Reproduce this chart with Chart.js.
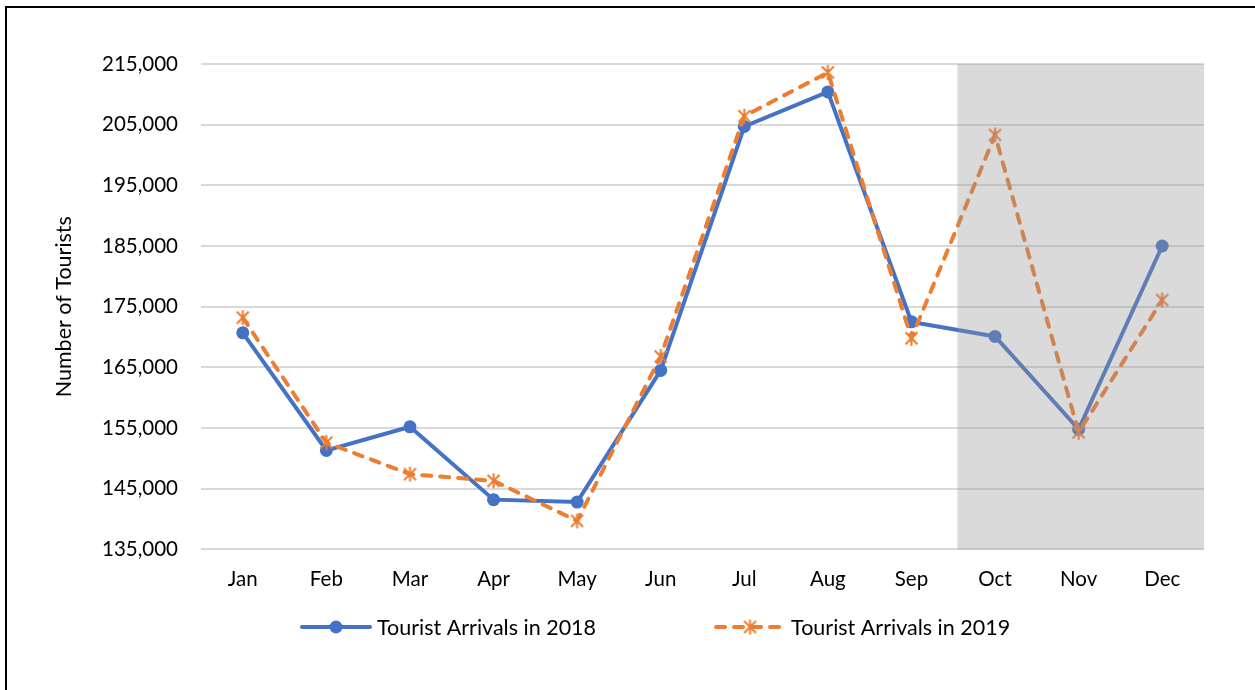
<!DOCTYPE html>
<html>
<head>
<meta charset="utf-8">
<script src="https://cdn.jsdelivr.net/npm/chart.js@4.4.0/dist/chart.umd.min.js"></script>
<style>
  html, body { margin: 0; padding: 0; background: #fff; }
  #wrap { width: 1255px; height: 690px; position: relative; }
</style>
</head>
<body>
<div id="wrap"><canvas id="tourChart"></canvas></div>
<script>
var months = ["Jan", "Feb", "Mar", "Apr", "May", "Jun", "Jul", "Aug", "Sep", "Oct", "Nov", "Dec"];
var arrivals2018 = [170700, 151300, 155200, 143200, 142800, 164500, 204700, 210400, 172500, 170100, 154800, 185000];
var arrivals2019 = [173200, 152600, 147400, 146300, 139700, 166800, 206400, 213600, 169800, 203300, 154300, 176100];
var seriesNames = ["Tourist Arrivals in 2018", "Tourist Arrivals in 2019"];
var yMin = 135000, yMax = 215000, yStep = 10000;
var shadeFrom = 8.55; // grey band starts between Sep and Oct

var blue = "#4472C4";
var orange = "#ED7D31";
var font = "Lato";

// excel style asterisk marker (vertical bar + X)
function starMark(color, size) {
  var c = document.createElement("canvas");
  c.width = size; c.height = size;
  var g = c.getContext("2d");
  var m = size / 2, r = size / 2 - 1, d = r * 0.8;
  g.strokeStyle = color;
  g.lineWidth = 2;
  g.beginPath();
  g.moveTo(m, m - r); g.lineTo(m, m + r);
  g.moveTo(m - d, m - d); g.lineTo(m + d, m + d);
  g.moveTo(m + d, m - d); g.lineTo(m - d, m + d);
  g.stroke();
  return c;
}
var star = starMark(orange, 17);

var framePlugin = {
  id: "frame",
  beforeDraw: function(chart) {
    var ctx = chart.ctx;
    ctx.save();
    ctx.fillStyle = "#fff";
    ctx.fillRect(0, 0, chart.width, chart.height);
    ctx.strokeStyle = "#000";
    ctx.lineWidth = 2;
    ctx.strokeRect(6, 7, chart.width + 20, chart.height + 20);
    ctx.restore();
  }
};

var shadePlugin = {
  id: "shade",
  afterDatasetsDraw: function(chart) {
    var a = chart.chartArea, ctx = chart.ctx;
    var left = chart.scales.x.getPixelForValue(shadeFrom);
    ctx.save();
    ctx.fillStyle = "rgba(150,150,150,0.35)";
    ctx.fillRect(left, a.top, a.right - left, a.bottom - a.top);
    ctx.restore();
  }
};

// legend drawn by hand so the line+marker samples look like Excel's
var legendPlugin = {
  id: "lineLegend",
  afterDraw: function(chart) {
    var ctx = chart.ctx;
    var y = 627, x = 302, sample = 68, gap = 7, between = 120;
    ctx.save();
    ctx.font = "21.5px " + font;
    ctx.textBaseline = "middle";
    chart.data.datasets.forEach(function(ds, i) {
      ctx.strokeStyle = ds.borderColor;
      ctx.lineWidth = 4;
      ctx.lineCap = "round";
      ctx.setLineDash(ds.borderDash || []);
      ctx.beginPath();
      ctx.moveTo(x, y); ctx.lineTo(x + sample, y);
      ctx.stroke();
      ctx.setLineDash([]);
      var cx = x + sample / 2;
      if (i === 0) {
        ctx.fillStyle = ds.borderColor;
        ctx.beginPath();
        ctx.arc(cx, y, 6.5, 0, Math.PI * 2);
        ctx.fill();
      } else {
        ctx.drawImage(star, cx - star.width / 2, y - star.height / 2);
      }
      ctx.fillStyle = "#000";
      ctx.fillText(ds.label, x + sample + gap, y + 1);
      x += sample + gap + ctx.measureText(ds.label).width + between;
    });
    ctx.restore();
  }
};

new Chart("tourChart", {
  type: "line",
  data: {
    labels: months,
    datasets: [{
      label: seriesNames[0],
      data: arrivals2018,
      borderColor: blue,
      backgroundColor: blue,
      borderWidth: 4,
      pointStyle: "circle",
      pointRadius: 6.5,
      pointHoverRadius: 6.5,
      pointBorderWidth: 0,
      tension: 0,
      order: 1
    }, {
      label: seriesNames[1],
      data: arrivals2019,
      borderColor: orange,
      backgroundColor: orange,
      borderWidth: 4,
      borderDash: [9, 9],
      borderCapStyle: "round",
      pointStyle: star,
      pointRadius: 8,
      tension: 0,
      order: 0
    }]
  },
  options: {
    responsive: true,
    maintainAspectRatio: false,
    animation: false,
    layout: { padding: { left: 51, right: 51, top: 64, bottom: 80 } },
    plugins: {
      legend: { display: false },
      tooltip: { enabled: false }
    },
    scales: {
      x: {
        offset: true,
        grid: { display: false, drawTicks: false },
        border: { display: false },
        ticks: { padding: 18, color: "#000", font: { family: font, size: 20.5 } }
      },
      y: {
        min: yMin,
        max: yMax,
        afterFit: function(s) { s.width = 150; },
        grid: { color: "#d9d9d9", lineWidth: 2, drawTicks: false },
        border: { display: false },
        ticks: {
          stepSize: yStep,
          padding: 23,
          color: "#000",
          font: { family: font, size: 20.5 },
          callback: function(v) { return v.toLocaleString("en-US"); }
        },
        title: {
          display: true,
          text: "Number of Tourists",
          color: "#000",
          padding: 0,
          font: { family: font, size: 21.5 }
        }
      }
    }
  },
  plugins: [framePlugin, shadePlugin, legendPlugin]
});
</script>
</body>
</html>
